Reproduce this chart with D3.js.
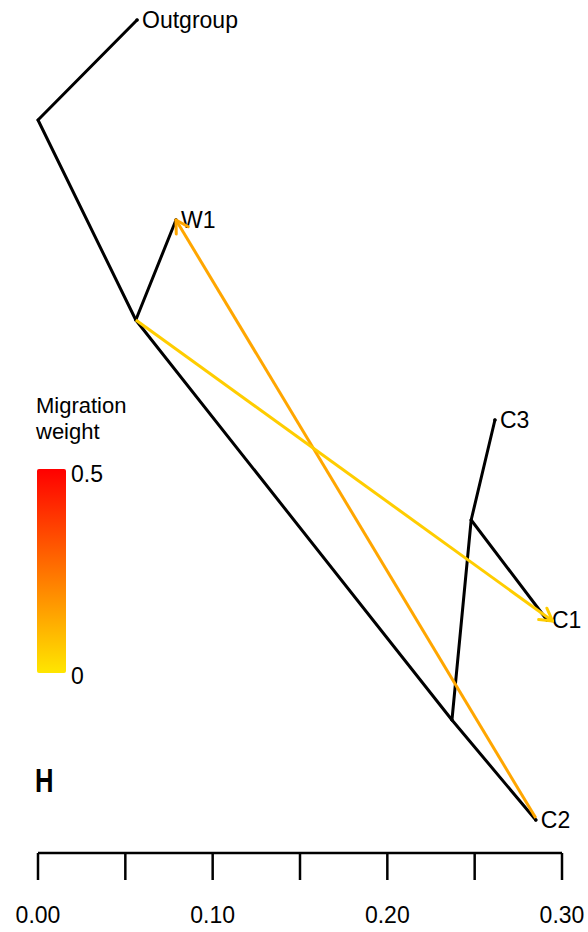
<!DOCTYPE html>
<html>
<head>
<meta charset="utf-8">
<script src="https://cdn.jsdelivr.net/npm/d3@7"></script>
<style>
  body { margin: 0; background: #fff; }
  svg { font-family: "Liberation Sans", Arial, sans-serif; }
</style>
</head>
<body>
<div id="chart"></div>
<script>
let width = 588, height = 932;

// nodes: name, drift (x), row (y)
const nodeNames = ['Outgroup', 'root', 'W1', 'nA', 'C3', 'nC', 'C1', 'nB', 'C2'];
const nodeDrift = [0.0567, 0, 0.079, 0.056, 0.2616, 0.248, 0.2914, 0.237, 0.285];
const nodeRow   = [0, 1, 2, 3, 4, 5, 6, 7, 8];
const tipNames  = ['Outgroup', 'W1', 'C3', 'C1', 'C2'];

// branches: parent -> child
const edgeFrom = ['root', 'root', 'nA', 'nA', 'nB', 'nB', 'nC', 'nC'];
const edgeTo   = ['Outgroup', 'nA', 'W1', 'nB', 'C2', 'nC', 'C3', 'C1'];

// migration edges
const migFromX = [0.285, 0.056];
const migFromRow = [7.98, 3];
const migToX = [0.0790, 0.2946];
const migToRow = [2, 6.01];
const migWeight = [0.14, 0.055];

const axisTicks = [0, 0.05, 0.10, 0.15, 0.20, 0.25, 0.30];
const axisLabels = ['0.00', '', '0.10', '', '0.20', '', '0.30'];

const svg = d3.select('#chart').append('svg')
    .attr('width', width)
    .attr('height', height);

let x = d3.scaleLinear().domain([0, 0.3]).range([38, 562]);
let y = d3.scaleLinear().domain([0, 8]).range([20, 820]);
let heat = d3.scaleLinear().domain([0, 0.5]).range(['#ffe600', '#ff0000']);

let nodes = {};
nodeNames.forEach((n, i) => nodes[n] = {x: x(nodeDrift[i]), y: y(nodeRow[i])});

//Ramas
svg.selectAll('.branch')
    .data(edgeFrom.map((f, i) => [nodes[f], nodes[edgeTo[i]]]))
    .enter()
    .append('line')
    .attr('class', 'branch')
    .attr('x1', d => d[0].x).attr('y1', d => d[0].y)
    .attr('x2', d => d[1].x).attr('y2', d => d[1].y)
    .attr('stroke', '#000')
    .attr('stroke-width', 3)
    .attr('stroke-linecap', 'round');

//Etiquetas
tipNames.forEach(n => {
    svg.append('circle')
        .attr('cx', nodes[n].x).attr('cy', nodes[n].y)
        .attr('r', 1.8).attr('fill', '#000');
    svg.append('text')
        .attr('x', nodes[n].x + 5)
        .attr('y', nodes[n].y)
        .attr('dy', '0.35em')
        .attr('font-size', 23)
        .text(n);
});

//Migraciones
migWeight.forEach((w, i) => {
    let x1 = x(migFromX[i]), y1 = y(migFromRow[i]);
    let x2 = x(migToX[i]), y2 = y(migToRow[i]);
    let col = heat(w);
    let g = svg.append('g');
    g.append('line')
        .attr('x1', x1).attr('y1', y1).attr('x2', x2).attr('y2', y2)
        .attr('stroke', col).attr('stroke-width', 3);
    let ang = Math.atan2(y2 - y1, x2 - x1);
    let len = 14, spread = Math.PI / 6;
    [ang + Math.PI - spread, ang + Math.PI + spread].forEach(a => {
        g.append('line')
            .attr('x1', x2).attr('y1', y2)
            .attr('x2', x2 + len * Math.cos(a))
            .attr('y2', y2 + len * Math.sin(a))
            .attr('stroke', col).attr('stroke-width', 3)
            .attr('stroke-linecap', 'round');
    });
});

//Leyenda
let defs = svg.append('defs');
let grad = defs.append('linearGradient').attr('id', 'heatGrad')
    .attr('x1', 0).attr('y1', 1).attr('x2', 0).attr('y2', 0);
d3.range(0, 1.01, 0.1).forEach(t => {
    grad.append('stop').attr('offset', t).attr('stop-color', heat(t * 0.5));
});
let leg = d3.scaleLinear().domain([0, 0.5]).range([673, 469]);
svg.append('text').attr('x', 36).attr('y', 413).attr('font-size', 22).text('Migration');
svg.append('text').attr('x', 36).attr('y', 439).attr('font-size', 22).text('weight');
svg.append('rect')
    .attr('x', 37).attr('y', leg(0.5))
    .attr('width', 29).attr('height', leg(0) - leg(0.5))
    .attr('rx', 2)
    .attr('fill', 'url(#heatGrad)');
[0, 0.5].forEach(v => {
    svg.append('text')
        .attr('x', 71).attr('y', leg(v) + (v === 0 ? 3 : 5))
        .attr('dy', '0.35em')
        .attr('font-size', 23)
        .text(v === 0 ? '0' : '0.5');
});

svg.append('text')
    .attr('x', 35).attr('y', 792)
    .attr('font-size', 27)
    .attr('font-weight', 'bold')
    .attr('transform', 'translate(35,792) scale(0.95,1.25) translate(-35,-792)')
    .text('H');

//Eje
let axisY = 853;
svg.append('line')
    .attr('x1', x(0)).attr('x2', x(0.3))
    .attr('y1', axisY).attr('y2', axisY)
    .attr('stroke', '#000').attr('stroke-width', 2.5);
svg.selectAll('.tick')
    .data(axisTicks)
    .enter()
    .append('line')
    .attr('x1', d => x(d)).attr('x2', d => x(d))
    .attr('y1', axisY).attr('y2', axisY + 27)
    .attr('stroke', '#000').attr('stroke-width', 2.5);
svg.selectAll('.tlabel')
    .data(axisTicks)
    .enter()
    .append('text')
    .attr('x', d => x(d))
    .attr('y', 923)
    .attr('text-anchor', 'middle')
    .attr('font-size', 23)
    .text((d, i) => axisLabels[i]);
</script>
</body>
</html>
